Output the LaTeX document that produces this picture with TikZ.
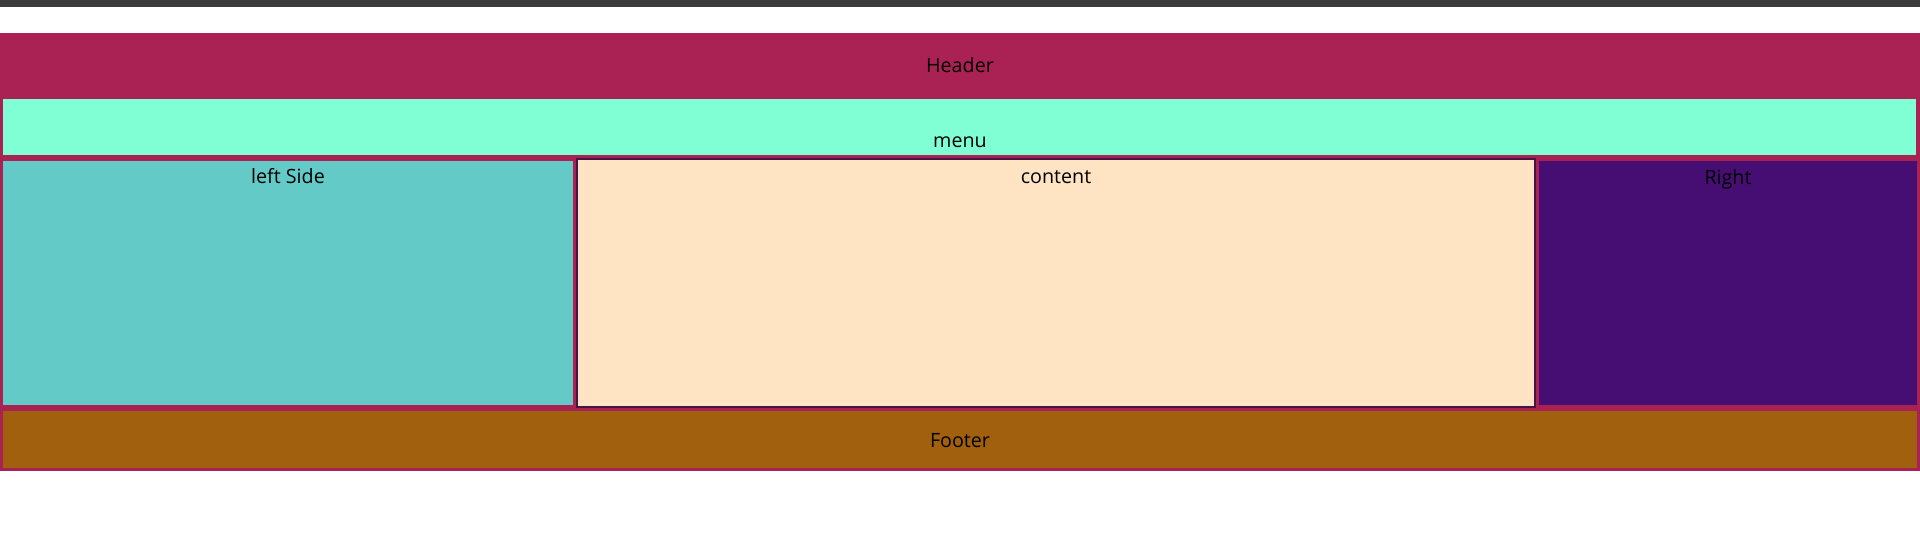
\documentclass[tikz,border=0pt]{standalone}
\usepackage{fontspec}
\setmainfont{Open Sans}
\usepackage{tikz}
\definecolor{headerred}{HTML}{AA2253}
\definecolor{menugreen}{HTML}{80FFD4}
\definecolor{leftcyan}{HTML}{63CAC8}
\definecolor{contentbeige}{HTML}{FFE4C4}
\definecolor{contentline}{HTML}{4A1242}
\definecolor{rightviolet}{HTML}{460E73}
\definecolor{footerbrown}{HTML}{A0600D}
\definecolor{topgray}{HTML}{3C3C3C}
\tikzset{label text/.style={inner sep=0pt, font=\fontsize{5.6}{6.5}\selectfont, text=black}}

\begin{document}
\begin{tikzpicture}[x=0.01cm, y=-0.01cm]
			\useasboundingbox (0, 0) rectangle (1920, 554);
			\fill[topgray] (0, 0) rectangle (1920, 7);
			% outer box (header background)
			\fill[headerred] (0, 33) rectangle (1920, 471);
			\fill[menugreen] (3, 99) rectangle (1916, 155);
			\fill[leftcyan] (3, 161) rectangle (573, 405);
			\draw[contentline, line width=0.57pt, fill=contentbeige] (577, 159) rectangle (1535, 407);
			\fill[rightviolet] (1539, 161) rectangle (1917, 405);
			\fill[footerbrown] (3, 411) rectangle (1917, 468);
			\node[label text, anchor=base] (header) at (960, 72) {Header};
			\node[label text, anchor=base] (menu) at (960, 147) {menu};
			\node[label text, anchor=base] (left) at (288, 183) {left Side};
			\node[label text, anchor=base] (content) at (1056, 183) {content};
			\node[label text, anchor=base] (right) at (1728, 184) {Right};
			\node[label text, anchor=base] (footer) at (960, 447) {Footer};
		\end{tikzpicture}
\end{document}
